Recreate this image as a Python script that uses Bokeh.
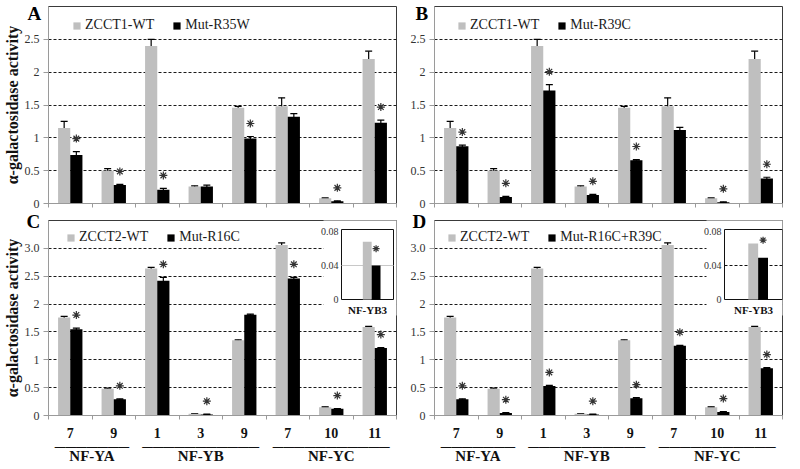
from bokeh.plotting import figure
from bokeh.models import (ColumnDataSource, FixedTicker, Legend, LegendItem, Whisker,
                          TeeHead, Range1d, LinearAxis, Title)
from bokeh.layouts import column, row
from bokeh.embed import file_html
from bokeh.resources import INLINE
from bokeh.core.properties import value

SERIF = "'Liberation Serif', 'Times New Roman', serif"
GLYPH_FONT = "Times"
GRAY = "#BFBFBF"
BLACK = "#000000"

# ---------------- data ----------------
cat_labels = ["7", "9", "1", "3", "9", "7", "10", "11"]
group_names = ["NF-YA", "NF-YB", "NF-YC"]
group_start = [0, 2, 5]
group_end = [2, 5, 8]

zcct1_wt = [1.15, 0.50, 2.40, 0.26, 1.46, 1.48, 0.08, 2.20]
zcct1_wt_err = [0.10, 0.03, 0.10, 0.01, 0.02, 0.13, 0.005, 0.12]
mut_r35w = [0.74, 0.28, 0.21, 0.26, 0.99, 1.32, 0.035, 1.23]
mut_r35w_err = [0.05, 0.01, 0.02, 0.02, 0.03, 0.05, 0.005, 0.04]
stars_a = [1, 1, 1, 0, 1, 0, 1, 1]

mut_r39c = [0.87, 0.10, 1.72, 0.13, 0.66, 1.12, 0.02, 0.38]
mut_r39c_err = [0.02, 0.01, 0.09, 0.01, 0.01, 0.04, 0.005, 0.02]
stars_b = [1, 1, 1, 1, 1, 0, 1, 1]

zcct2_wt = [1.76, 0.48, 2.64, 0.03, 1.35, 3.06, 0.15, 1.59]
zcct2_wt_err = [0.02, 0.01, 0.02, 0.005, 0.01, 0.04, 0.005, 0.01]
mut_r16c = [1.55, 0.29, 2.42, 0.02, 1.81, 2.46, 0.12, 1.21]
mut_r16c_err = [0.02, 0.01, 0.06, 0.003, 0.01, 0.02, 0.005, 0.01]
stars_c = [1, 1, 1, 1, 0, 1, 1, 1]

mut_r16c_r39c = [0.29, 0.045, 0.53, 0.02, 0.31, 1.25, 0.065, 0.85]
mut_r16c_r39c_err = [0.01, 0.005, 0.01, 0.003, 0.01, 0.01, 0.005, 0.01]
stars_d = [1, 1, 1, 1, 1, 1, 1, 1]

yticks_top = [0, 0.5, 1, 1.5, 2, 2.5]
ytick_labels_top = ["0", "0.5", "1", "1.5", "2", "2.5"]
yticks_bottom = [0, 0.5, 1, 1.5, 2, 2.5, 3]
ytick_labels_bottom = ["0", "0.5", "1", "1.5", "2", "2.5", "3.0"]

inset_label = "NF-YB3"
inset_ticks = [0, 0.04, 0.08]
inset_tick_labels = ["0", "0.04", "0.08"]
inset_c_wt = [0.068]
inset_c_wt_err = [0.004]
inset_c_mut = [0.040]
inset_c_mut_err = [0.001]
inset_c_star = [1]
inset_d_wt = [0.066]
inset_d_wt_err = [0.004]
inset_d_mut = [0.049]
inset_d_mut_err = [0.002]
inset_d_star = [1]

Y_LABEL = "α-galactosidase activity"
FW = 348
RULE = "\u2500"


def whisker(src, base, lo, hi, size=7, **kw):
    return Whisker(source=src, base=base, lower=lo, upper=hi,
                   line_color="black", line_width=1.2,
                   lower_head=TeeHead(size=size, line_color="black", line_width=1.2),
                   upper_head=TeeHead(size=size, line_color="black", line_width=1.2), **kw)


def make_panel(letter, wt, wt_err, mut, mut_err, stars, wt_name, mut_name,
               ymax, yticks, ylabels, is_left, is_bottom, legend_x, letter_off,
               inset=None):
    FH = 195 if is_bottom else 197
    p = figure(frame_width=FW, frame_height=FH,
               x_range=Range1d(0, 8), y_range=Range1d(0, ymax),
               output_backend="svg", toolbar_location=None,
               min_border_left=46 if is_left else 34,
               min_border_right=4 if is_left else 2,
               min_border_top=10 if is_bottom else 6,
               min_border_bottom=41 if is_bottom else 7)
    p.outline_line_color = "#3a3a3a"
    p.outline_line_width = 1
    p.xgrid.visible = False
    p.ygrid.ticker = FixedTicker(ticks=[t for t in yticks if t > 0])
    p.ygrid.grid_line_color = "#1a1a1a"
    p.ygrid.grid_line_dash = "3 2"
    p.ygrid.grid_line_width = 1
    pxu = FH / ymax

    # panel letter as a left-aligned title pulled down beside the frame
    p.title.text = letter
    p.title.align = "left"
    p.title.offset = letter_off
    p.title.standoff = -23 if is_bottom else -34
    p.title.text_font = SERIF
    p.title.text_font_style = "bold"
    p.title.text_font_size = "19px"
    p.title.text_color = "#000000"

    n = len(wt)
    xc = [i + 0.5 for i in range(n)]
    src = ColumnDataSource(dict(
        xw=[x - 0.14 for x in xc], xm=[x + 0.14 for x in xc],
        wt=wt, wt_lo=[v - e for v, e in zip(wt, wt_err)], wt_hi=[v + e for v, e in zip(wt, wt_err)],
        mut=mut, mut_lo=[v - e for v, e in zip(mut, mut_err)], mut_hi=[v + e for v, e in zip(mut, mut_err)]))
    r_wt = p.vbar(x="xw", top="wt", width=0.28, source=src, fill_color=GRAY, line_color=None)
    r_mut = p.vbar(x="xm", top="mut", width=0.28, source=src, fill_color=BLACK, line_color=None)
    p.add_layout(whisker(src, "xw", "wt_lo", "wt_hi"))
    p.add_layout(whisker(src, "xm", "mut_lo", "mut_hi"))

    # significance asterisks
    ssrc = ColumnDataSource(dict(
        x=[x + 0.14 for x, s in zip(xc, stars) if s],
        y=[m + e + 13.0 / pxu for m, e, s in zip(mut, mut_err, stars) if s]))
    p.scatter(x="x", y="y", source=ssrc, marker="asterisk", size=8,
              line_color="#333333", line_width=1.2)

    legend = Legend(items=[LegendItem(label=wt_name, renderers=[r_wt]),
                           LegendItem(label=mut_name, renderers=[r_mut])],
                    orientation="horizontal",
                    location=(legend_x, FH - 25) if is_bottom else (legend_x, FH - 27),
                    border_line_color=None, background_fill_alpha=0,
                    label_text_font=SERIF, label_text_font_size="14px",
                    label_text_color="#1a1a1a",
                    glyph_width=9, glyph_height=9, label_standoff=4, spacing=18,
                    padding=0, margin=0)
    p.add_layout(legend)

    ya = p.yaxis[0]
    ya.ticker = FixedTicker(ticks=yticks)
    ya.major_label_overrides = {t: l for t, l in zip(yticks, ylabels)}
    ya.major_label_text_font = SERIF
    ya.major_label_text_font_size = "12px"
    ya.major_label_text_color = "#333333"
    ya.axis_line_color = "#9a9a9a"
    ya.major_tick_line_color = "#9a9a9a"
    ya.major_tick_out = 5
    ya.major_tick_in = 0
    ya.minor_tick_line_color = None
    ya.major_label_standoff = 4
    if is_left:
        yt = Title(text=Y_LABEL, align="center", text_font=SERIF, text_font_style="bold",
                   text_font_size="16px", text_color="#111111", standoff=2)
        p.add_layout(yt, "left")

    xa = p.xaxis[0]
    xa.axis_line_color = "#9a9a9a"
    xa.minor_tick_line_color = "#9a9a9a"
    xa.minor_tick_out = 4
    xa.minor_tick_in = 0
    xa.major_tick_line_color = None
    xa.major_tick_out = 0
    xa.major_tick_in = 0
    bounds = list(range(n + 1))
    if is_bottom:
        xa.ticker = FixedTicker(ticks=xc, minor_ticks=bounds)
        xa.major_label_overrides = {x: l for x, l in zip(xc, cat_labels)}
        xa.major_label_text_font = SERIF
        xa.major_label_text_font_style = "bold"
        xa.major_label_text_font_size = "14px"
        xa.major_label_text_color = "#111111"
        xa.major_label_standoff = 8
        gx = [(s + e) / 2 for s, e in zip(group_start, group_end)]
        fs = 15
        span_px = [(e - s - 0.4) * FW / 8.0 for s, e in zip(group_start, group_end)]
        glabels = [RULE * int(round(w / (0.711 * fs))) + "\n" + nm
                   for w, nm in zip(span_px, group_names)]
        ax2 = LinearAxis(ticker=FixedTicker(ticks=gx),
                         major_label_overrides={g: t for g, t in zip(gx, glabels)},
                         axis_line_color=None, major_tick_line_color=None,
                         minor_tick_line_color=None, major_tick_out=0, major_tick_in=0,
                         major_label_text_font=SERIF, major_label_text_font_style="bold",
                         major_label_text_font_size="%dpx" % fs, major_label_text_color="#111111",
                         major_label_text_line_height=0.6,
                         major_label_standoff=-2)
        p.add_layout(ax2, "below")
    else:
        xa.ticker = FixedTicker(ticks=[], minor_ticks=bounds)
        xa.major_label_text_font_size = "0px"
        xa.major_label_standoff = 0

    if inset is not None:
        L, W, B, H = inset["L"], inset["W"], 116.0, 68.0
        ys = inset_ticks[-1] / H
        p.extra_x_ranges = {"ix": Range1d(-L / W, (FW - L) / W)}
        p.extra_y_ranges = {"iy": Range1d(-B * ys, (FH - B) * ys)}
        rk = dict(x_range_name="ix", y_range_name="iy")
        # white cover behind the inset
        p.quad(left=[-18.0 / W], right=[(FW - L) / W + 0.1], bottom=[-16 * ys],
               top=[(FH - B) * ys + 0.01], fill_color="white", line_color=None, **rk)
        p.quad(left=[0], right=[1], bottom=[0], top=[inset_ticks[-1] + 2 * ys],
               fill_color=None, line_color="#111111", line_width=1, **rk)
        gt = inset_ticks[1:-1]
        p.segment(x0=[0] * len(gt), x1=[1] * len(gt), y0=gt, y1=gt,
                  line_color=inset["grid_color"], line_dash=inset["grid_dash"], line_width=1, **rk)
        ic = 0.58
        isrc = ColumnDataSource(dict(
            xw=[ic - 0.085], xm=[ic + 0.085],
            wt=inset["wt"], wt_lo=[v - e for v, e in zip(inset["wt"], inset["wt_err"])],
            wt_hi=[v + e for v, e in zip(inset["wt"], inset["wt_err"])],
            mut=inset["mut"], mut_lo=[v - e for v, e in zip(inset["mut"], inset["mut_err"])],
            mut_hi=[v + e for v, e in zip(inset["mut"], inset["mut_err"])]))
        p.vbar(x="xw", top="wt", width=0.17, source=isrc, fill_color=GRAY, line_color=None, **rk)
        p.vbar(x="xm", top="mut", width=0.17, source=isrc, fill_color=BLACK, line_color=None, **rk)
        p.add_layout(whisker(isrc, "xw", "wt_lo", "wt_hi", size=6, **rk))
        p.add_layout(whisker(isrc, "xm", "mut_lo", "mut_hi", size=6, **rk))
        tsrc = ColumnDataSource(dict(x=[0] * len(inset_ticks), y=inset_ticks, t=inset_tick_labels))
        p.text(x="x", y="y", text="t", source=tsrc, text_font=value(GLYPH_FONT),
               text_font_size="10px", text_align="right", text_baseline="middle",
               x_offset=-3, text_color="#333333", **rk)
        p.text(x=[0.5], y=[0], text=[inset_label], text_font=value(GLYPH_FONT),
               text_font_style="bold", text_font_size="11px", text_align="center",
               text_baseline="top", y_offset=4, text_color="#111111", **rk)
        st = ColumnDataSource(dict(
            x=[ic + 0.085 for s in inset["star"] if s],
            y=[m + e + 16 * ys for m, e, s in zip(inset["mut"], inset["mut_err"], inset["star"]) if s]))
        p.scatter(x="x", y="y", source=st, marker="asterisk", size=7,
                  line_color="#333333", line_width=1.2, **rk)
    return p


pA = make_panel("A", zcct1_wt, zcct1_wt_err, mut_r35w, mut_r35w_err, stars_a,
                "ZCCT1-WT", "Mut-R35W", 3.0, yticks_top, ytick_labels_top,
                True, False, 24, -21)
pB = make_panel("B", zcct1_wt, zcct1_wt_err, mut_r39c, mut_r39c_err, stars_b,
                "ZCCT1-WT", "Mut-R39C", 3.0, yticks_top, ytick_labels_top,
                False, False, 23, -19)
pC = make_panel("C", zcct2_wt, zcct2_wt_err, mut_r16c, mut_r16c_err, stars_c,
                "ZCCT2-WT", "Mut-R16C", 3.5, yticks_bottom, ytick_labels_bottom,
                True, True, 18, -22,
                inset=dict(L=293.0, W=52.0, wt=inset_c_wt, wt_err=inset_c_wt_err,
                           mut=inset_c_mut, mut_err=inset_c_mut_err, star=inset_c_star,
                           grid_color="#c8c8c8", grid_dash="solid"))
pD = make_panel("D", zcct2_wt, zcct2_wt_err, mut_r16c_r39c, mut_r16c_r39c_err, stars_d,
                "ZCCT2-WT", "Mut-R16C+R39C", 3.5, yticks_bottom, ytick_labels_bottom,
                False, True, 13, -22,
                inset=dict(L=290.0, W=58.0, wt=inset_d_wt, wt_err=inset_d_wt_err,
                           mut=inset_d_mut, mut_err=inset_d_mut_err, star=inset_d_star,
                           grid_color="#111111", grid_dash="3 2"))

layout = column(row(pA, pB), row(pC, pD))
open("out.html", "w").write(file_html(layout, INLINE))
